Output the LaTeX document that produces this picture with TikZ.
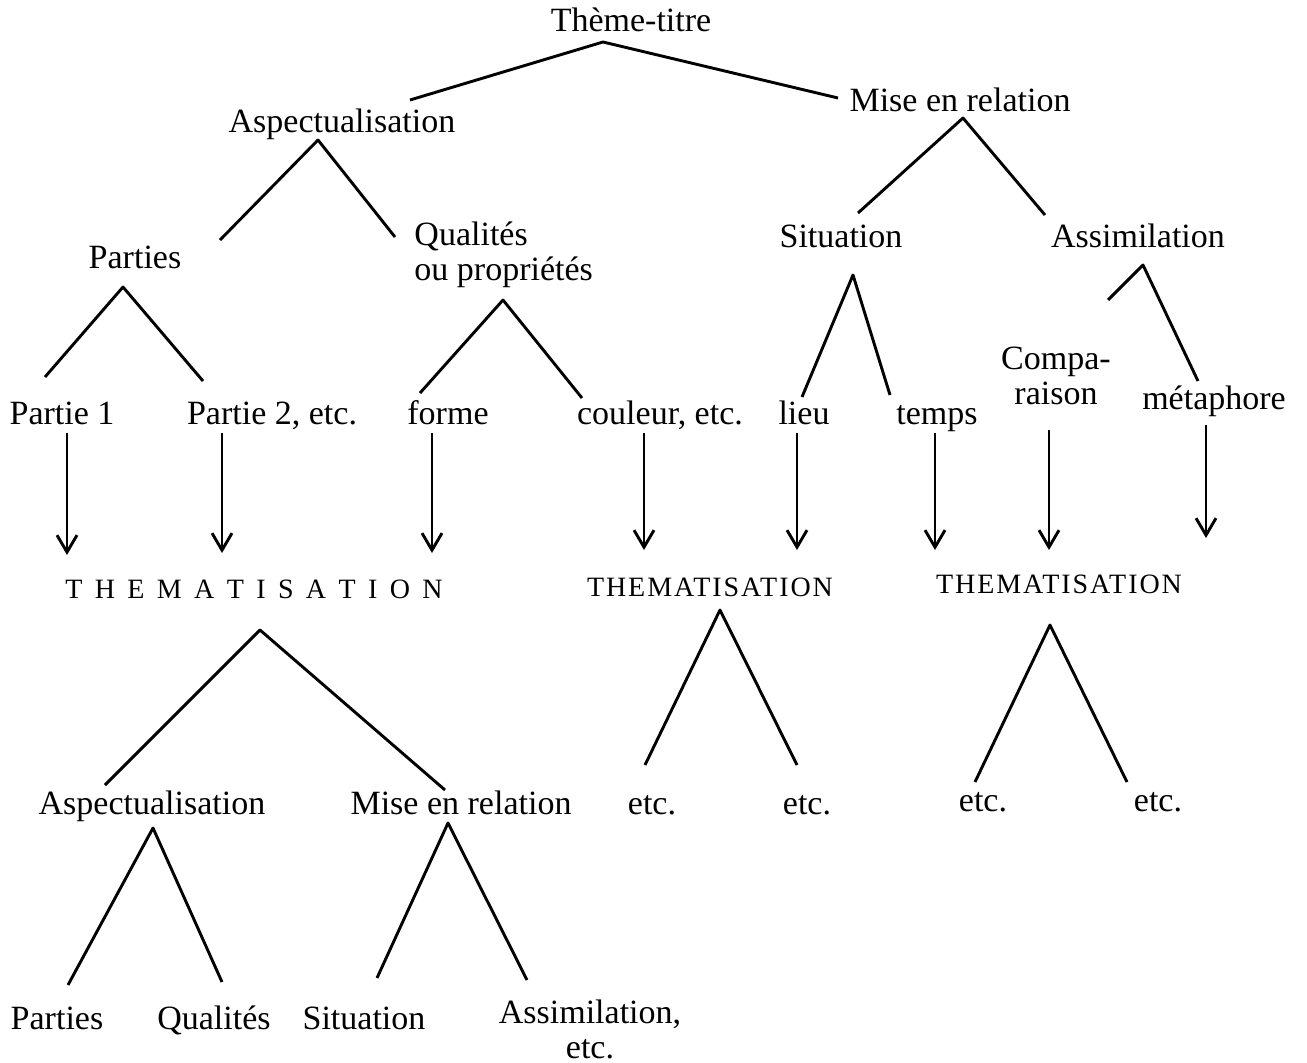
\documentclass[tikz,border=0pt]{standalone}
\usepackage{fontspec}
\setmainfont{Liberation Serif}
\usetikzlibrary{arrows.meta}
\begin{document}
\begin{tikzpicture}[x=1pt,y=-1pt,line join=round,line width=2.9pt,
	lbl/.style={anchor=base,inner sep=0pt,font=\fontsize{34}{35}\selectfont},
	thm/.style={anchor=base,inner sep=0pt,font=\fontsize{28}{30}\selectfont},
	arr/.style={-{Straight Barb[length=17pt,width=20pt]}}]
	\useasboundingbox (0,0) rectangle (1307,1063);
	% labels
	\node[lbl] (tt) at (631,31) {Thème-titre};
	\node[lbl] (asp) at (342,132) {Aspectualisation};
	\node[lbl] (mer) at (960,111) {Mise en relation};
	\node[lbl] (par) at (135,268) {Parties};
	\node[lbl,anchor=west,align=left] (qua) at (413,255) {Qualités\\ou propriétés};
	\node[lbl] (sit) at (841,247) {Situation};
	\node[lbl] (ass) at (1138,247) {Assimilation};
	\node[lbl] (pa1) at (62,424) {Partie 1};
	\node[lbl] (pa2) at (272,424) {Partie 2, etc.};
	\node[lbl] (for) at (448,424) {forme};
	\node[lbl] (cou) at (660,424) {couleur, etc.};
	\node[lbl] (lie) at (804,424) {lieu};
	\node[lbl] (tem) at (937,424) {temps};
	\node[lbl,anchor=center,align=center] (com) at (1056,376) {Compa-\\raison};
	\node[lbl] (met) at (1214,409) {métaphore};
	\node[thm] (th1) at (254,598) {\spaceskip=12.4pt T H E M A T I S A T I O N};
	\node[thm] (th2) at (710,596) {\addfontfeature{LetterSpace=7}THEMATISATION};
	\node[thm] (th3) at (1059,593) {\addfontfeature{LetterSpace=7}THEMATISATION};
	\node[lbl] (asp2) at (152,814) {Aspectualisation};
	\node[lbl] (mer2) at (461,814) {Mise en relation};
	\node[lbl] (etc1) at (652,814) {etc.};
	\node[lbl] (etc2) at (807,814) {etc.};
	\node[lbl] (etc3) at (983,811) {etc.};
	\node[lbl] (etc4) at (1158,811) {etc.};
	\node[lbl] (par2) at (57,1029) {Parties};
	\node[lbl] (qua2) at (214,1029) {Qualités};
	\node[lbl] (sit2) at (364,1029) {Situation};
	\node[lbl,anchor=center,align=center] (ass2) at (590,1029) {Assimilation,\\etc.};
	% branches: apex, left foot, right foot
	\coordinate (tt-a) at (603,42); \coordinate (tt-l) at (410,100); \coordinate (tt-r) at (838,98);
	\coordinate (asp-a) at (318,140); \coordinate (asp-l) at (220,240); \coordinate (asp-r) at (395,237);
	\coordinate (mer-a) at (963,118); \coordinate (mer-l) at (858,213); \coordinate (mer-r) at (1045,215);
	\coordinate (par-a) at (123,287); \coordinate (par-l) at (45,377); \coordinate (par-r) at (203,381);
	\coordinate (qua-a) at (503,300); \coordinate (qua-l) at (420,393); \coordinate (qua-r) at (582,398);
	\coordinate (sit-a) at (853,275); \coordinate (sit-l) at (802,397); \coordinate (sit-r) at (890,395);
	\coordinate (ass-a) at (1143,265); \coordinate (ass-l) at (1108,300); \coordinate (ass-r) at (1198,381);
	\coordinate (th1-a) at (260,630); \coordinate (th1-l) at (105,785); \coordinate (th1-r) at (445,790);
	\coordinate (th2-a) at (720,610); \coordinate (th2-l) at (645,765); \coordinate (th2-r) at (797,765);
	\coordinate (th3-a) at (1050,625); \coordinate (th3-l) at (975,782); \coordinate (th3-r) at (1127,782);
	\coordinate (asp2-a) at (153,828); \coordinate (asp2-l) at (68,985); \coordinate (asp2-r) at (222,982);
	\coordinate (mer2-a) at (448,823); \coordinate (mer2-l) at (377,978); \coordinate (mer2-r) at (527,980);
	\foreach \b in {tt,asp,mer,par,qua,sit,ass,th1,th2,th3,asp2,mer2}
		\draw (\b-l) -- (\b-a) -- (\b-r);
	% arrows down to the thematisations
	\coordinate (pa1-t) at (67,433); \coordinate (pa1-b) at (67,555);
	\coordinate (pa2-t) at (222,433); \coordinate (pa2-b) at (222,553);
	\coordinate (for-t) at (432,433); \coordinate (for-b) at (432,553);
	\coordinate (cou-t) at (644,433); \coordinate (cou-b) at (644,550);
	\coordinate (lie-t) at (797,433); \coordinate (lie-b) at (797,550);
	\coordinate (tem-t) at (935,433); \coordinate (tem-b) at (935,550);
	\coordinate (com-t) at (1049,430); \coordinate (com-b) at (1049,550);
	\coordinate (met-t) at (1206,425); \coordinate (met-b) at (1206,538);
	\foreach \b in {pa1,pa2,for,cou,lie,tem,com,met}
		\draw[arr] (\b-t) -- (\b-b);
\end{tikzpicture}
\end{document}
